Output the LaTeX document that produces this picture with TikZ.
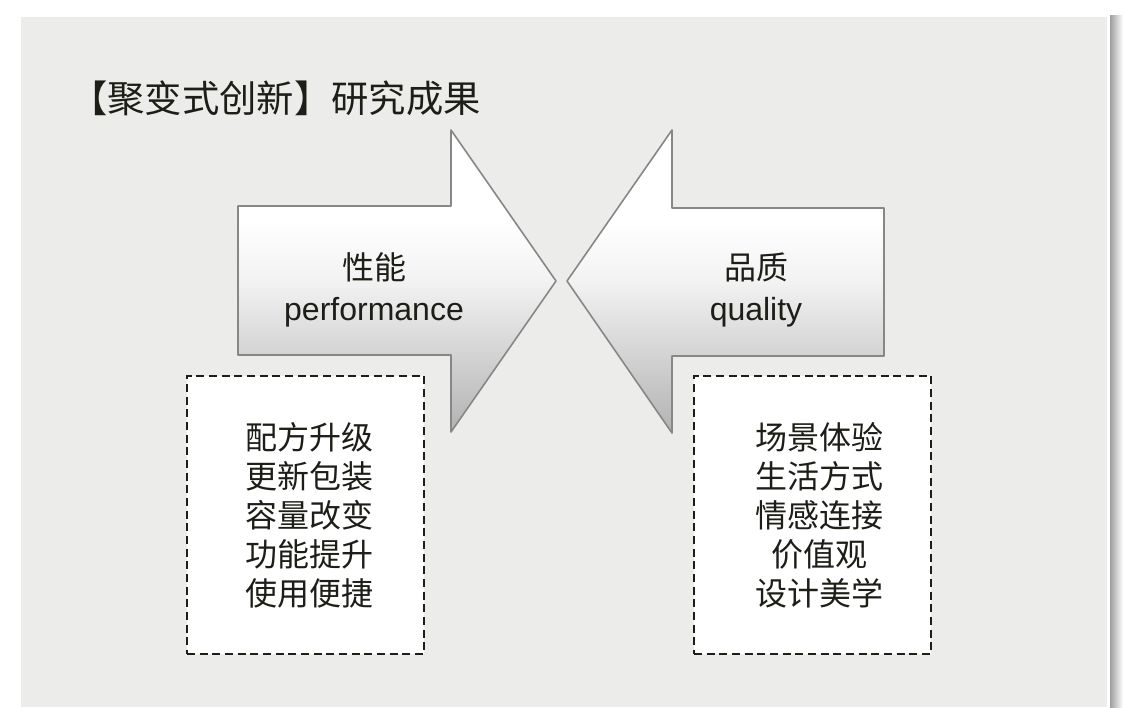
\documentclass[tikz,border=0pt]{standalone}
\usepackage{fontspec}
\setmainfont{Liberation Sans}
\newfontfamily\cjk{Noto Sans CJK SC}
\definecolor{panelgray}{RGB}{236,236,234}
\definecolor{edgegray}{RGB}{135,135,135}
\definecolor{inkdark}{RGB}{30,30,24}
\usetikzlibrary{positioning}
\pgfdeclareverticalshading{arrowfade}{100bp}{color(0bp)=(black!30); color(25bp)=(black!30); color(38bp)=(black!17); color(50bp)=(black!5); color(60bp)=(white); color(100bp)=(white)}

\begin{document}
\begin{tikzpicture}[x=0.75pt, y=-0.75pt,
        every node/.style={align=center, inner sep=0pt},
        arrowbody/.style={draw=edgegray, line width=1.2pt, line join=round, shading=arrowfade},
        caption/.style={font=\fontsize{24}{30.75}\selectfont, text=inkdark},
        listbox/.style={draw=inkdark, fill=white, dash pattern=on 6pt off 3.5pt, line width=1.1pt,
          minimum width=177.75pt, minimum height=208.5pt},
        listtext/.style={font=\cjk\fontsize{24}{29.25}\selectfont, text=inkdark}
      ]
      \useasboundingbox (0,0) rectangle (1124,707);
      \fill[white] (0,0) rectangle (1124,707);
      % panel and its shadow
      \shade[left color=black!38, right color=white] (1110,15) rectangle (1123,707);
      \fill[white] (1107,17) rectangle (1110,707);
      \fill[panelgray] (21,17) rectangle (1107,707);
      \node[anchor=west, font=\cjk\fontsize{28}{32}\selectfont, text=inkdark] (title) at (70,98) {【聚变式创新】研究成果};
      % two arrows
      \shade[arrowbody] (238,206) -- (451,206) -- (451,130) -- (556,281) -- (451,432) -- (451,355) -- (238,355) -- cycle;
      \shade[arrowbody] (884,208) -- (672,208) -- (672,130) -- (567,281) -- (672,433) -- (672,356) -- (884,356) -- cycle;
      \node[caption] (perf) at (374,290) {{\cjk 性能}\\performance};
      \node[caption] (qual) at (756,290) {{\cjk 品质}\\quality};
      % lists
      \node[listbox] (perfbox) at (305.5,515) {};
      \node[listbox] (qualbox) at (812.5,515) {};
      \node[listtext, right=3pt of perfbox.center, anchor=center] (perflist) {配方升级\\更新包装\\容量改变\\功能提升\\使用便捷};
      \node[listtext, right=5pt of qualbox.center, anchor=center] (quallist) {场景体验\\生活方式\\情感连接\\价值观\\设计美学};
    \end{tikzpicture}
\end{document}
